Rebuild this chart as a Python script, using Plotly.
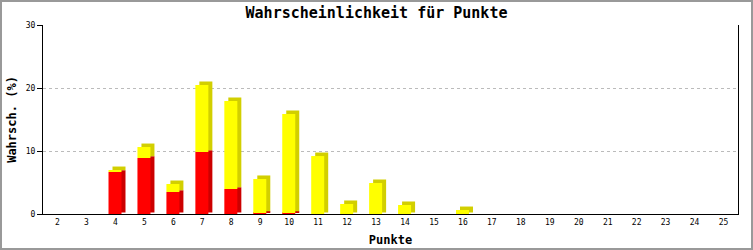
import plotly.graph_objects as go

points = list(range(2, 26))
red_vals = [0, 0, 6.67, 8.89, 3.49, 9.84, 3.97, 0.16, 0.16, 0, 0, 0, 0, 0, 0,
            0, 0, 0, 0, 0, 0, 0, 0, 0]
yellow_vals = [0, 0, 0.31, 1.74, 1.27, 10.64, 13.97, 5.40, 15.71, 9.20, 1.59, 4.92, 1.43, 0, 0.63,
               0, 0, 0, 0, 0, 0, 0, 0, 0]
y_ticks = [0, 10, 20, 30]

W, H = 753, 250
ml, mr, mt, mb = 43, 15, 25, 36
pw, ph = W - ml - mr, H - mt - mb

unit_x = pw / 24.0          # px per category
unit_y = ph / 30.0          # px per %
bar_w = 13 / unit_x
bar_off = -6.9 / unit_x
dx = 4 / unit_x
dy = 3.5 / unit_y
foot = 1.5 / unit_y         # bottom of the 3D side (small chamfer)

FONT = "DejaVu Sans Mono"
fig = go.Figure()

def add_bar(base, vals, color, off):
    fig.add_trace(go.Bar(x=points, y=vals, base=base, width=bar_w, offset=off,
                         marker=dict(color=color, line=dict(width=0)),
                         hoverinfo="skip", showlegend=False))

# 3D side/top shadows derived from the data
red_sh_base, red_sh_h, yel_sh_base, yel_sh_h = [], [], [], []
for r, yv in zip(red_vals, yellow_vals):
    total = r + yv
    if r > 0:
        split = max(r + dy / 2, foot)
        red_sh_base.append(foot)
        red_sh_h.append(split - foot)
        if yv > 0:
            yel_sh_base.append(split)
            yel_sh_h.append(total + dy - split)
        else:
            yel_sh_base.append(0)
            yel_sh_h.append(0)
            red_sh_h[-1] = r + dy - foot
    else:
        red_sh_base.append(0)
        red_sh_h.append(0)
        if yv > 0:
            yel_sh_base.append(foot)
            yel_sh_h.append(yv + dy - foot)
        else:
            yel_sh_base.append(0)
            yel_sh_h.append(0)

add_bar(red_sh_base, red_sh_h, "#CC0000", bar_off + dx)
add_bar(yel_sh_base, yel_sh_h, "#D2CF00", bar_off + dx)
# fronts
add_bar([0] * len(points), red_vals, "#FF0000", bar_off)
add_bar(red_vals, yellow_vals, "#FFFF00", bar_off)

fig.update_layout(
    width=W, height=H, barmode="overlay",
    margin=dict(l=ml, r=mr, t=mt, b=mb, autoexpand=False),
    paper_bgcolor="white", plot_bgcolor="white",
    title=dict(text="<b>Wahrscheinlichkeit für Punkte</b>", x=0.5, xanchor="center",
               y=1 - 13 / H, yanchor="middle",
               font=dict(family=FONT, size=15, color="black")),
    xaxis=dict(range=[1.5, 25.5], tickvals=points, ticktext=[str(p) for p in points],
               showgrid=False, zeroline=False, showline=True, linecolor="black", linewidth=1,
               ticks="", automargin=False, tickfont=dict(family=FONT, size=8, color="black"),
               title=dict(text="<b>Punkte</b>", font=dict(family=FONT, size=12, color="black"),
                          standoff=10)),
    yaxis=dict(range=[0, 30], tickvals=y_ticks, showgrid=True, gridcolor="#BBBBBB",
               griddash="3px,3px", gridwidth=1, zeroline=False,
               showline=True, mirror=True, linecolor="black", linewidth=1,
               ticks="outside", ticklen=5, tickcolor="black", automargin=False,
               tickfont=dict(family=FONT, size=8, color="black"),
               title=dict(text="<b>Wahrsch. (%)</b>", font=dict(family=FONT, size=12, color="black"),
                          standoff=6)),
)

# outer gray frame around the whole image
fig.add_shape(type="rect", xref="paper", yref="paper",
              x0=(1 - ml) / pw, x1=(W - 1 - ml) / pw,
              y0=-(H - 1 - mt - ph) / ph, y1=1 + (mt - 1) / ph,
              line=dict(color="#999999", width=2), fillcolor="rgba(0,0,0,0)", layer="below")

fig.write_html("out.html")
